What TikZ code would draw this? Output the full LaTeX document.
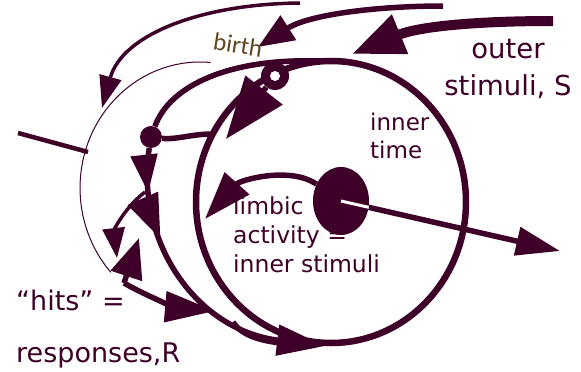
\documentclass[tikz,border=0pt]{standalone}
\usepackage{fontspec}
\setmainfont{DejaVu Sans}
\newfontfamily\birthfont{Carlito}
\usepackage{tikz}
\usetikzlibrary{arrows.meta, shapes.geometric, decorations.markings, positioning}
\definecolor{maroon}{RGB}{62, 0, 40}
\definecolor{birthbrown}{RGB}{95, 70, 35}

\begin{document}
\begin{tikzpicture}[
    x=1pt, y=-1pt,
    every node/.style={inner sep=0pt},
    cycleline/.style={draw=maroon, line width=6.5pt},
    flow/.style={draw=maroon, line width=5.5pt},
    thinflow/.style={draw=maroon, line width=3.5pt},
    hairline/.style={draw=maroon, line width=1pt},
    headed/.style 2 args={-{Triangle[length=#1pt, width=#2pt]}},
    txt/.style={text=maroon, align=left},
    blob/.style={ellipse, fill=maroon, minimum width=56pt, minimum height=68pt}
]
    \useasboundingbox (0,0) rectangle (581,372);

    % inner time cycle
    \node[ellipse, cycleline, minimum width=270pt, minimum height=282pt] (time) at (331,202) {};

    % older cycle, thin
    \draw[hairline] (210.5,62.5) arc[start angle=85, end angle=222, x radius=120pt, y radius=126pt];
    \coordinate (stubA) at (18,133);
    \coordinate (stubB) at (88,152);
    \draw[draw=maroon, line width=4.5pt] (stubA) -- (stubB);

    % birth arc
    \coordinate (birthStart) at (300,3);
    \coordinate (birthEnd) at (102,108);
    \draw[thinflow, headed={32}{22}] (birthStart) .. controls (200,4) and (122,35) .. (birthEnd);

    % outer stimuli
    \coordinate (sTop) at (443,6);
    \coordinate (sTopEnd) at (258,47);
    \draw[flow, headed={36}{28}] (sTop) .. controls (380,6) and (310,14) .. (sTopEnd);
    \coordinate (sMain) at (553,21);
    \coordinate (sMainEnd) at (352,54);
    \draw[draw=maroon, line width=10pt, headed={52}{40}] (sMain) .. controls (480,21) and (420,26) .. (sMainEnd);

    % birth point and ring
    \node[circle, fill=maroon, minimum size=22pt] (sdot) at (151,137) {};
    \coordinate (gEnd) at (320,61);
    \draw[flow] (sdot) .. controls (170,85) and (230,58) .. (gEnd);
    \node[circle, fill=maroon, minimum size=28pt] (rg) at (275,76) {};
    \coordinate (rgTip) at (226,139);
    \draw[flow, headed={62}{46}] (rg) -- (rgTip);
    \fill[white] (rg) circle (5pt);
    \coordinate (mEnd) at (212,134);
    \draw[flow] (sdot) .. controls (175,140) and (192,134) .. (mEnd);

    % responses
    \coordinate (kEnd) at (325,346);
    \draw[flow, headed={48}{30}, postaction={decorate},
        decoration={markings,
            mark=at position 0.15 with {\arrow{Triangle[length=38pt, width=26pt]}},
            mark=at position 0.31 with {\arrow{Triangle[length=44pt, width=32pt]}}}]
        (sdot) .. controls (135,240) and (195,330) .. (kEnd);
    \coordinate (fork) at (145,192);
    \coordinate (forkEnd) at (117,258);
    \draw[thinflow, headed={30}{22}] (fork) .. controls (122,210) and (114,232) .. (forkEnd);
    \coordinate (hitsFoot) at (124,283);
    \coordinate (hitsUp) at (139,238);
    \coordinate (hitsEnd) at (215,311);
    \draw[flow, headed={40}{32}] (hitsFoot) -- (hitsUp);
    \draw[flow, headed={50}{30}] (hitsFoot) .. controls (150,298) and (180,308) .. (hitsEnd);
    \coordinate (lStart) at (233,322);
    \coordinate (lEnd) at (292,344);
    \draw[flow] (lStart) .. controls (242,336) and (262,342) .. (lEnd);

    % labels
    \node[txt, anchor=north, align=center, font=\fontsize{27.5}{37}\selectfont] (outer) at (508,39) {outer\\stimuli, S};
    \node[txt, anchor=north west, font=\fontsize{23}{28}\selectfont] (inner) at (370,113) {inner\\time};
    \node[txt, anchor=north west, font=\fontsize{23.5}{29}\selectfont] (limbic) at (233,196) {limbic\\activity =\\inner stimuli};
    \node[txt, anchor=north west, font=\fontsize{27}{52}\selectfont] (hits) at (16,290) {“hits” =\\responses,R};
    \node[text=birthbrown, rotate=-9, font=\birthfont\fontsize{25}{25}\selectfont] (birth) at (238,45) {birth};

    % limbic core
    \node[blob] (core) at (341,201) {};
    \coordinate (limbicEnd) at (205,219);
    \draw[flow, headed={48}{32}] (core) .. controls (290,166) and (240,180) .. (limbicEnd);
    \coordinate (rOut) at (560,251);
    \draw[flow, headed={44}{28}] (core) -- (rOut);
    \path (core) -- (rOut) coordinate[pos=0] (coreEdge);
    \draw[white, line width=3pt] (core.center) -- (coreEdge);
\end{tikzpicture}
\end{document}
